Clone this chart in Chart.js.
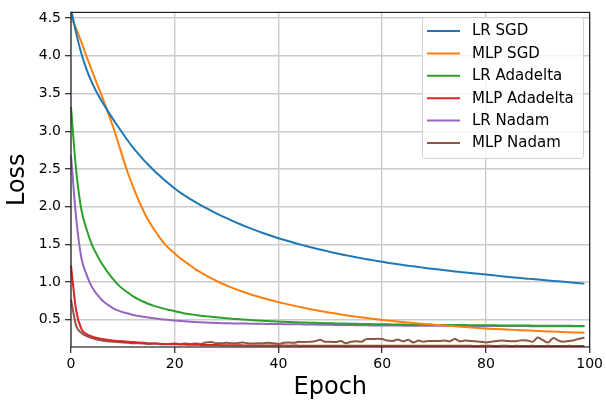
<!DOCTYPE html>
<html>
<head>
<meta charset="utf-8">
<script src="https://cdn.jsdelivr.net/npm/chart.js@4.4.1/dist/chart.umd.min.js"></script>
<style>
  html, body { margin: 0; padding: 0; background: #fff; }
  #wrap { width: 606px; height: 405px; }
</style>
</head>
<body>
<div id="wrap"><canvas id="lossChart" width="606" height="405"></canvas></div>
<script>
// epochs 0..99, values
const epochs = Array.from({ length: 100 }, (_, i) => i);

const seriesNames = ["LR SGD", "MLP SGD", "LR Adadelta", "MLP Adadelta", "LR Nadam", "MLP Nadam"];
const seriesColors = ["#1f77b4", "#ff7f0e", "#2ca02c", "#d62728", "#9467bd", "#8c564b"];

const lrSgd = [
  4.62, 4.30, 4.03, 3.82, 3.65, 3.51, 3.39, 3.28, 3.17, 3.07,
  2.97, 2.87, 2.78, 2.70, 2.62, 2.55, 2.48, 2.415, 2.355, 2.297,
  2.24, 2.19, 2.145, 2.10, 2.06, 2.02, 1.983, 1.947, 1.912, 1.879,
  1.847, 1.816, 1.786, 1.757, 1.729, 1.702, 1.676, 1.651, 1.627, 1.604,
  1.582, 1.561, 1.541, 1.521, 1.502, 1.484, 1.466, 1.449, 1.432, 1.416,
  1.400, 1.385, 1.370, 1.356, 1.342, 1.329, 1.316, 1.304, 1.292, 1.280,
  1.269, 1.258, 1.248, 1.238, 1.228, 1.218, 1.209, 1.200, 1.191, 1.182,
  1.174, 1.166, 1.158, 1.150, 1.142, 1.135, 1.128, 1.121, 1.114, 1.107,
  1.100, 1.093, 1.086, 1.079, 1.072, 1.065, 1.058, 1.052, 1.046, 1.040,
  1.034, 1.028, 1.022, 1.016, 1.010, 1.004, 0.998, 0.992, 0.986, 0.980
];

const mlpSgd = [
  4.51, 4.36, 4.18, 3.99, 3.81, 3.63, 3.46, 3.27, 3.08, 2.87,
  2.65, 2.44, 2.26, 2.09, 1.94, 1.81, 1.70, 1.60, 1.51, 1.44,
  1.38, 1.32, 1.27, 1.22, 1.17, 1.13, 1.09, 1.053, 1.018, 0.985,
  0.955, 0.927, 0.900, 0.875, 0.852, 0.830, 0.809, 0.789, 0.770, 0.752,
  0.735, 0.718, 0.702, 0.687, 0.672, 0.658, 0.644, 0.631, 0.618, 0.606,
  0.594, 0.583, 0.572, 0.562, 0.552, 0.542, 0.533, 0.524, 0.515, 0.507,
  0.499, 0.491, 0.484, 0.477, 0.470, 0.464, 0.458, 0.452, 0.446, 0.440,
  0.435, 0.430, 0.425, 0.420, 0.415, 0.410, 0.405, 0.400, 0.395, 0.390,
  0.385, 0.381, 0.377, 0.374, 0.371, 0.368, 0.365, 0.362, 0.359, 0.356,
  0.353, 0.350, 0.347, 0.344, 0.341, 0.338, 0.335, 0.333, 0.331, 0.329
];

const lrAdadelta = [
  3.32, 2.48, 1.96, 1.70, 1.50, 1.36, 1.24, 1.14, 1.05, 0.97,
  0.91, 0.86, 0.81, 0.77, 0.74, 0.71, 0.685, 0.665, 0.645, 0.63,
  0.615, 0.60, 0.585, 0.575, 0.565, 0.555, 0.548, 0.54, 0.533, 0.527,
  0.52, 0.515, 0.51, 0.505, 0.50, 0.496, 0.492, 0.488, 0.484, 0.48,
  0.477, 0.474, 0.471, 0.468, 0.466, 0.464, 0.462, 0.46, 0.458, 0.456,
  0.455, 0.453, 0.452, 0.45, 0.449, 0.447, 0.446, 0.445, 0.443, 0.442,
  0.441, 0.44, 0.439, 0.438, 0.437, 0.436, 0.436, 0.435, 0.435, 0.434,
  0.433, 0.433, 0.432, 0.431, 0.431, 0.430, 0.430, 0.429, 0.429, 0.428,
  0.428, 0.427, 0.427, 0.426, 0.426, 0.425, 0.425, 0.424, 0.424, 0.423,
  0.423, 0.423, 0.422, 0.422, 0.421, 0.421, 0.421, 0.420, 0.420, 0.420
];

const mlpAdadelta = [
  1.22, 0.62, 0.38, 0.31, 0.28, 0.26, 0.245, 0.235, 0.225, 0.22,
  0.215, 0.21, 0.205, 0.20, 0.195, 0.19, 0.187, 0.184, 0.181, 0.178,
  0.176, 0.174, 0.172, 0.170, 0.169, 0.168, 0.167, 0.166, 0.165, 0.164,
  0.163, 0.163, 0.162, 0.162, 0.161, 0.161, 0.160, 0.160, 0.160, 0.159,
  0.159, 0.159, 0.158, 0.159, 0.158, 0.158, 0.158, 0.157, 0.158, 0.157,
  0.157, 0.157, 0.157, 0.156, 0.157, 0.156, 0.156, 0.157, 0.156, 0.156,
  0.156, 0.156, 0.155, 0.156, 0.156, 0.155, 0.156, 0.155, 0.155, 0.156,
  0.155, 0.155, 0.155, 0.155, 0.156, 0.155, 0.155, 0.155, 0.154, 0.155,
  0.155, 0.155, 0.154, 0.155, 0.155, 0.154, 0.155, 0.154, 0.154, 0.155,
  0.154, 0.154, 0.155, 0.154, 0.154, 0.154, 0.155, 0.154, 0.154, 0.154
];

const lrNadam = [
  2.68, 1.85, 1.32, 1.10, 0.94, 0.84, 0.76, 0.705, 0.66, 0.625,
  0.60, 0.585, 0.565, 0.55, 0.54, 0.53, 0.52, 0.51, 0.503, 0.497,
  0.49, 0.485, 0.48, 0.475, 0.471, 0.467, 0.464, 0.461, 0.458, 0.456,
  0.454, 0.453, 0.452, 0.451, 0.450, 0.449, 0.448, 0.447, 0.446, 0.445,
  0.444, 0.443, 0.442, 0.441, 0.440, 0.439, 0.438, 0.437, 0.436, 0.435,
  0.434, 0.433, 0.432, 0.431, 0.430, 0.429, 0.428, 0.427, 0.426, 0.426,
  0.425, 0.425, 0.424, 0.424, 0.423, 0.423, 0.423, 0.422, 0.422, 0.422,
  0.421, 0.421, 0.421, 0.420, 0.420, 0.420, 0.419, 0.419, 0.419, 0.419,
  0.418, 0.418, 0.418, 0.418, 0.417, 0.417, 0.417, 0.417, 0.417, 0.416,
  0.416, 0.416, 0.416, 0.416, 0.415, 0.415, 0.415, 0.415, 0.415, 0.415
];

const mlpNadam = [
  0.77, 0.42, 0.33, 0.285, 0.26, 0.24, 0.225, 0.215, 0.21, 0.205,
  0.20, 0.195, 0.19, 0.19, 0.185, 0.18, 0.185, 0.18, 0.175, 0.18,
  0.185, 0.18, 0.185, 0.18, 0.185, 0.18, 0.20, 0.205, 0.19, 0.19,
  0.195, 0.19, 0.19, 0.20, 0.19, 0.185, 0.19, 0.19, 0.195, 0.19,
  0.18, 0.195, 0.20, 0.195, 0.21, 0.205, 0.21, 0.215, 0.235, 0.21,
  0.21, 0.205, 0.22, 0.19, 0.21, 0.215, 0.21, 0.245, 0.245, 0.25,
  0.245, 0.225, 0.22, 0.24, 0.215, 0.235, 0.20, 0.225, 0.21, 0.22,
  0.22, 0.22, 0.225, 0.215, 0.245, 0.215, 0.225, 0.22, 0.215, 0.21,
  0.20, 0.21, 0.22, 0.225, 0.22, 0.215, 0.22, 0.23, 0.225, 0.21,
  0.265, 0.23, 0.20, 0.26, 0.225, 0.21, 0.22, 0.23, 0.25, 0.265
];

const seriesValues = [lrSgd, mlpSgd, lrAdadelta, mlpAdadelta, lrNadam, mlpNadam];

const xTicks = [0, 20, 40, 60, 80, 100];
const yTicks = [0.5, 1.0, 1.5, 2.0, 2.5, 3.0, 3.5, 4.0, 4.5];

const FONT = "'DejaVu Sans', 'Liberation Sans', sans-serif";
const SPINE = "#222222";

// frame on all four sides, like matplotlib spines, plus the legend box
const framePlugin = {
  id: "frame",
  afterDatasetsDraw(chart) {
    const { ctx, chartArea: a } = chart;
    ctx.save();
    ctx.strokeStyle = SPINE;
    ctx.lineWidth = 1.2;
    ctx.strokeRect(a.left, a.top, a.right - a.left, a.bottom - a.top);
    ctx.restore();
  },
  afterDraw(chart) {
    const { ctx } = chart;
    const bx = 422.5, by = 17.5, bw = 161, bh = 141, r = 3;
    ctx.save();
    ctx.beginPath();
    ctx.moveTo(bx + r, by);
    ctx.arcTo(bx + bw, by, bx + bw, by + bh, r);
    ctx.arcTo(bx + bw, by + bh, bx, by + bh, r);
    ctx.arcTo(bx, by + bh, bx, by, r);
    ctx.arcTo(bx, by, bx + bw, by, r);
    ctx.closePath();
    ctx.fillStyle = "rgba(255,255,255,0.8)";
    ctx.fill();
    ctx.strokeStyle = "#d0d0d0";
    ctx.lineWidth = 1;
    ctx.stroke();

    ctx.font = "15px " + FONT;
    ctx.textBaseline = "middle";
    ctx.textAlign = "left";
    chart.data.datasets.forEach((ds, i) => {
      const y = 31 + i * 22.4;
      ctx.strokeStyle = ds.borderColor;
      ctx.lineWidth = 2;
      ctx.beginPath();
      ctx.moveTo(427, y);
      ctx.lineTo(460, y);
      ctx.stroke();
      ctx.fillStyle = "#000";
      ctx.fillText(ds.label, 472, y + 0.5);
    });
    ctx.restore();
  }
};

const datasets = seriesNames.map((name, i) => ({
  label: name,
  data: epochs.map((e, j) => ({ x: e, y: seriesValues[i][j] })),
  borderColor: seriesColors[i],
  backgroundColor: seriesColors[i],
  borderWidth: 2,
  pointRadius: 0,
  cubicInterpolationMode: "monotone",
  fill: false,
  clip: 1
}));

new Chart(document.getElementById("lossChart"), {
  type: "line",
  data: { datasets: datasets },
  options: {
    responsive: false,
    devicePixelRatio: 1,
    animation: false,
    layout: { padding: { left: 0, top: 10, right: 15, bottom: 0 } },
    plugins: {
      legend: { display: false },
      tooltip: { enabled: false }
    },
    scales: {
      x: {
        type: "linear",
        min: 0,
        max: 100,
        afterBuildTicks: s => { s.ticks = xTicks.map(v => ({ value: v })); },
        afterFit: s => { s.height = 58; },
        ticks: {
          color: "#000",
          font: { family: FONT, size: 14 },
          padding: 3,
          maxRotation: 0,
          callback: v => String(v)
        },
        grid: { color: "#cbcbcb", lineWidth: 1.4, tickColor: SPINE, tickLength: 6, tickWidth: 1.2 },
        border: { display: false },
        title: {
          display: true,
          text: "Epoch",
          color: "#000",
          font: { family: FONT, size: 24 },
          padding: { top: 0, bottom: 3 }
        }
      },
      y: {
        type: "linear",
        min: 0.14,
        max: 4.575,
        afterBuildTicks: s => { s.ticks = yTicks.map(v => ({ value: v })); },
        afterFit: s => { s.width = 71; },
        ticks: {
          color: "#000",
          font: { family: FONT, size: 14 },
          padding: 4,
          callback: v => Number(v).toFixed(1)
        },
        grid: { color: "#cbcbcb", lineWidth: 1.4, tickColor: SPINE, tickLength: 6, tickWidth: 1.2 },
        border: { display: false },
        title: {
          display: true,
          text: "Loss",
          color: "#000",
          font: { family: FONT, size: 24 },
          padding: { top: 3, bottom: 0 }
        }
      }
    }
  },
  plugins: [framePlugin]
});
</script>
</body>
</html>
